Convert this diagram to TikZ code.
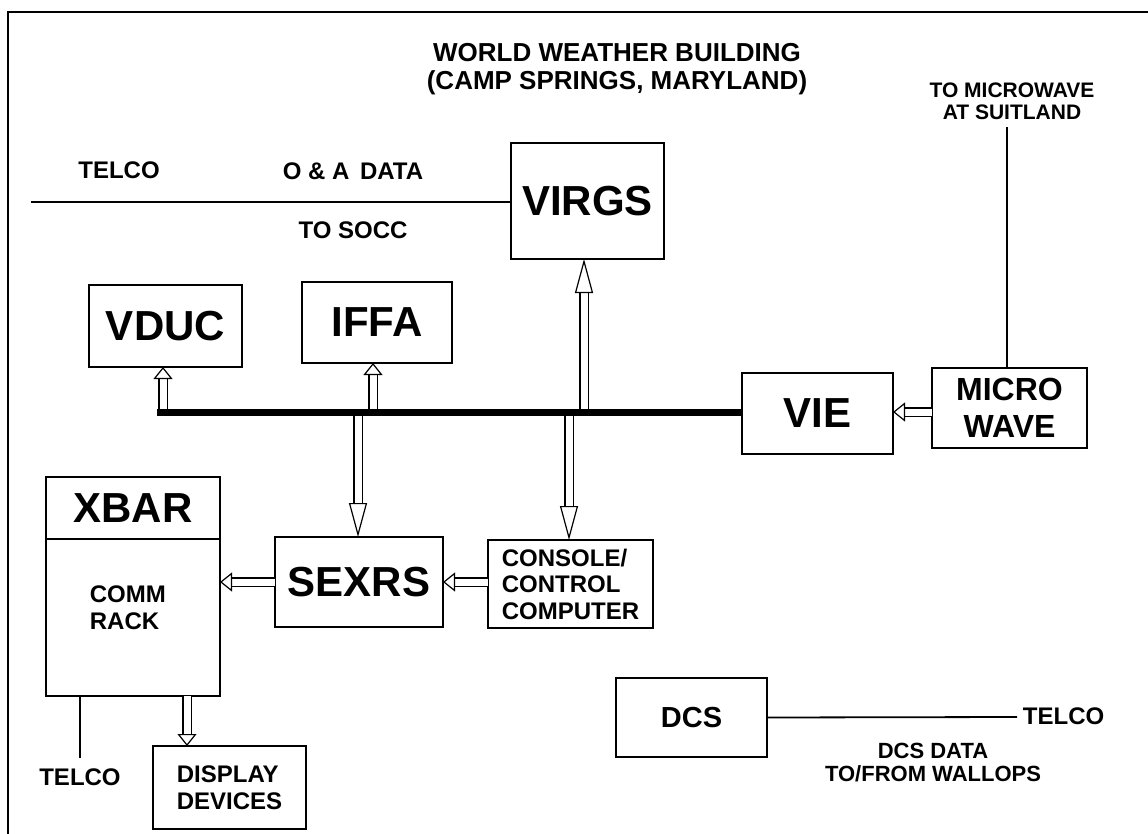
\documentclass[tikz,border=0pt]{standalone}
\usepackage{fontspec}
\newfontfamily\diagfont{Liberation Sans}
\usetikzlibrary{arrows.meta}

\begin{document}
\begin{tikzpicture}[x=1pt, y=-1pt, line width=1.8pt,
  box/.style={draw, inner sep=0pt, outer sep=0pt, font=\diagfont\bfseries\fontsize{42}{46}\selectfont},
  small/.style={inner sep=0pt, align=center, font=\diagfont\bfseries\fontsize{24}{27}\selectfont},
  hollow/.style={line width=1.2pt, double distance=7pt,
    -{Triangle[open, length=12pt, width=19pt, line width=1.2pt]}},
  hollowlong/.style={line width=1.2pt, double distance=7pt,
    -{Triangle[open, length=34pt, width=18pt, line width=1.2pt]}}]
  \useasboundingbox (0,0) rectangle (1148,834);
  % frame
  \draw (8,834) -- (8,12) -- (1148,12);
  % title
  \node[small, font=\diagfont\bfseries\fontsize{26}{28}\selectfont] (title) at (617,69)
    {WORLD WEATHER BUILDING\\(CAMP SPRINGS, MARYLAND)};
  \node[small, font=\diagfont\bfseries\fontsize{21}{22}\selectfont] (suitland) at (1012,101)
    {TO MICROWAVE\\AT SUITLAND};
  % boxes
  \node[box, minimum width=153pt, minimum height=116pt] (virgs) at (587.5,201) {VIRGS};
  \node[box, minimum width=153pt, minimum height=82pt] (vduc) at (165.5,326) {VDUC};
  \node[box, minimum width=150pt, minimum height=81pt] (iffa) at (377,322.5) {IFFA};
  \node[box, minimum width=151pt, minimum height=81pt] (vie) at (817.5,413.5) {VIE};
  \node[box, minimum width=155pt, minimum height=80pt,
    font=\diagfont\bfseries\fontsize{32}{37}\selectfont, align=center] (micro) at (1009.5,408) {MICRO\\WAVE};
  \node[box, minimum width=174pt, minimum height=62pt] (xbar) at (133,508) {XBAR};
  \node[box, minimum width=174pt, minimum height=157pt, anchor=north] (comm) at (xbar.south) {};
  \node[small, align=left, anchor=north west] (rack) at (89,585) {COMM\\RACK};
  \node[box, minimum width=168pt, minimum height=90pt] (sexrs) at (359,582) {SEXRS};
  \node[box, minimum width=165pt, minimum height=88pt, align=left,
    font=\diagfont\bfseries\fontsize{24}{26.5}\selectfont] (console) at (570.5,584)
    {CONSOLE/\\CONTROL\\COMPUTER};
  \node[box, minimum width=153pt, minimum height=83pt, align=left,
    font=\diagfont\bfseries\fontsize{24}{27}\selectfont] (display) at (229.5,787.5)
    {DISPLAY\\DEVICES};
  \node[box, minimum width=151pt, minimum height=79pt,
    font=\diagfont\bfseries\fontsize{29}{32}\selectfont] (dcs) at (691.5,717.5) {DCS};
  % O & A data line
  \coordinate (telcoW) at (31,202);
  \draw (telcoW) -- (telcoW -| virgs.west);
  \node[small] (telcoA) at (119,170) {TELCO};
  \node[small] (oadata) at (353,171) {O \& A\, DATA};
  \node[small] (socc) at (353,230) {TO SOCC};
  % microwave link
  \coordinate (suitW) at (1007,127);
  \draw (suitW) -- (suitW |- micro.north);
  % bus and its taps
  \coordinate (busW) at (157,412);
  \draw[hollow] (busW -| 163,0) -- (163,0 |- vduc.south);
  \draw[hollow] (busW -| 373,0) -- (373,0 |- iffa.south);
  \draw[hollowlong] (busW -| 584,0) -- (584,0 |- virgs.south);
  \draw[hollowlong] (busW -| 358,0) -- (358,0 |- sexrs.north);
  \draw[hollowlong] (busW -| 569,0) -- (569,0 |- console.north);
  \draw[line width=7pt] (busW) -- (busW -| vie.west);
  \draw[hollow] (busW -| micro.west) -- (busW -| vie.east);
  % data flow to the rack
  \draw[hollow] (console.west |- sexrs.west) -- (sexrs.east);
  \draw[hollow] (sexrs.west) -- (sexrs.west -| comm.east);
  \draw[hollow] ([xshift=54pt]comm.south) -- ([xshift=54pt]comm.south |- display.north);
  \node[small] (telcoB) at (80,777) {TELCO};
  \draw ([xshift=-53pt]comm.south) -- ([xshift=-53pt]comm.south |- 0,758);
  % DCS link
  \coordinate (telcoE) at (1017,717);
  \draw (dcs.east) -- (telcoE);
  \node[small, anchor=west] (telcoC) at (1022,716) {TELCO};
  \node[small, font=\diagfont\bfseries\fontsize{22}{23}\selectfont] (dcsdata) at (933,763)
    {DCS DATA\\TO/FROM WALLOPS};
\end{tikzpicture}
\end{document}
